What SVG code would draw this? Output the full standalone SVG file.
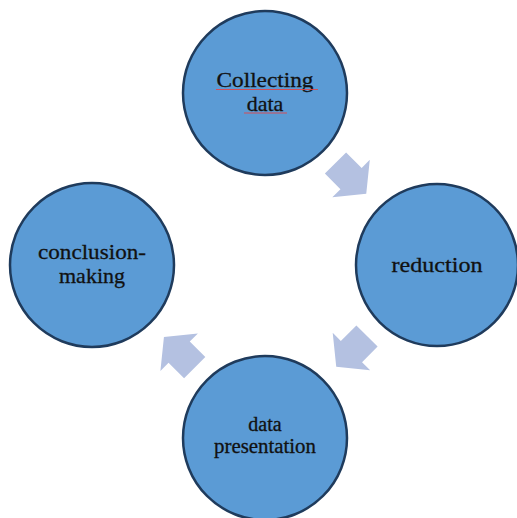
<svg xmlns="http://www.w3.org/2000/svg" width="517" height="518" viewBox="0 0 517 518">
  <style>
    .node { fill: #5b9bd5; stroke: #1f3b5c; stroke-width: 2.5; }
    .label { font-family: "Liberation Serif", "Times New Roman", serif; font-size: 22px; fill: #111; stroke: #111; stroke-width: 0.3; text-anchor: middle; }
    .small { font-size: 20px; }
    .arrow { fill: #b4c1e1; }
    .spell { stroke: #e0464a; stroke-width: 0.9; fill: none; }
  </style>
  <defs>
    <!-- block arrow pointing along +x, tail centre at origin -->
    <polygon id="blockArrow" points="0,-15 22,-15 22,-26.5 43.5,0 22,26.5 22,15 0,15"/>
  </defs>
  <rect width="517" height="518" fill="#ffffff"/>

  <g id="connectors">
    <use href="#blockArrow" class="arrow" transform="translate(335.5,163) rotate(45)"/>
    <use href="#blockArrow" class="arrow" transform="translate(367,336) rotate(135)"/>
    <use href="#blockArrow" class="arrow" transform="translate(194.7,367.7) rotate(225)"/>
  </g>

  <g id="collecting-data">
    <circle class="node" cx="265" cy="93" r="82"/>
    <text class="label" x="265" y="87" textLength="97" lengthAdjust="spacingAndGlyphs">Collecting</text>
    <text class="label" x="265" y="111">data</text>
    <path class="spell" d="M216,89.5 L318,89.5 M244,113 L287,113"/>
  </g>

  <g id="reduction">
    <circle class="node" cx="437" cy="265" r="81"/>
    <text class="label" x="437" y="272" textLength="91" lengthAdjust="spacingAndGlyphs">reduction</text>
  </g>

  <g id="data-presentation">
    <circle class="node" cx="265" cy="438" r="82"/>
    <text class="label small" x="265" y="431">data</text>
    <text class="label small" x="265" y="453" textLength="102" lengthAdjust="spacingAndGlyphs">presentation</text>
  </g>

  <g id="conclusion-making">
    <circle class="node" cx="92" cy="265" r="82"/>
    <text class="label" x="92" y="259" textLength="108" lengthAdjust="spacingAndGlyphs">conclusion-</text>
    <text class="label" x="92" y="283">making</text>
  </g>
</svg>
